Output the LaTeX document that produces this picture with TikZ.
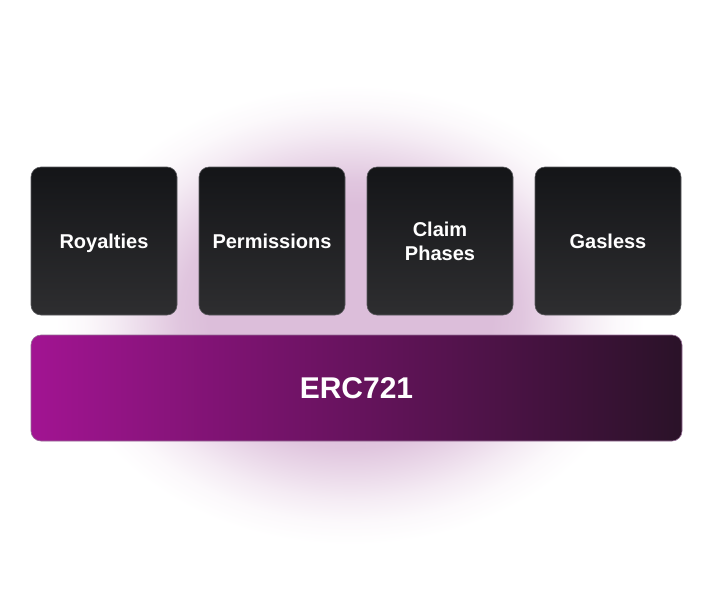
\documentclass[tikz,border=0pt]{standalone}
\usepackage{fontspec}
\setmainfont{Liberation Sans}
\definecolor{glowc}{RGB}{220,190,218}
\definecolor{boxtop}{RGB}{20,21,24}
\definecolor{boxbot}{RGB}{46,46,48}
\definecolor{boxedge}{RGB}{90,90,94}
\definecolor{barleft}{RGB}{162,20,146}
\definecolor{barright}{RGB}{42,18,40}
\definecolor{baredge}{RGB}{150,110,150}
% flat core with a soft rim; 25bp is the edge of the shaded ellipse
\pgfdeclareradialshading{softglow}{\pgfpoint{0bp}{0bp}}{%
  color(0bp)=(glowc);
  color(12bp)=(glowc);
  color(14.5bp)=(glowc!88!white);
  color(17bp)=(glowc!62!white);
  color(20bp)=(glowc!30!white);
  color(22.5bp)=(glowc!10!white);
  color(25bp)=(white);
  color(50bp)=(white)}
\tikzset{
  module/.style={rounded corners=10pt, minimum width=146pt, minimum height=148pt,
    top color=boxtop, bottom color=boxbot, draw=boxedge, line width=0.6pt,
    text=white, align=center, inner sep=0pt,
    font=\fontsize{20}{24}\selectfont\bfseries},
  oneline/.style={text height=15pt, text depth=0pt},
  basebar/.style={rounded corners=10pt, minimum width=651pt, minimum height=106pt,
    left color=barleft, right color=barright, draw=baredge, line width=0.6pt,
    text=white, inner sep=0pt, font=\fontsize{30}{36}\selectfont\bfseries}
}
\begin{document}
\begin{tikzpicture}[x=1pt,y=-1pt]
  \useasboundingbox (0,0) rectangle (712,608);
  \fill[white] (0,0) rectangle (712,608);
  % soft purple halo behind the stack
  \shade[shading=softglow] (350,315) ellipse [x radius=295, y radius=230];
  % feature modules
  \node[module, oneline] (royalties)   at (104,241) {Royalties};
  \node[module, oneline] (permissions) at (272,241) {Permissions};
  \node[module]          (claim)       at (440,241) {Claim\\Phases};
  \node[module, oneline] (gasless)     at (608,241) {Gasless};
  % base standard
  \node[basebar] (erc) at (356.5,388) {ERC721};
\end{tikzpicture}
\end{document}
